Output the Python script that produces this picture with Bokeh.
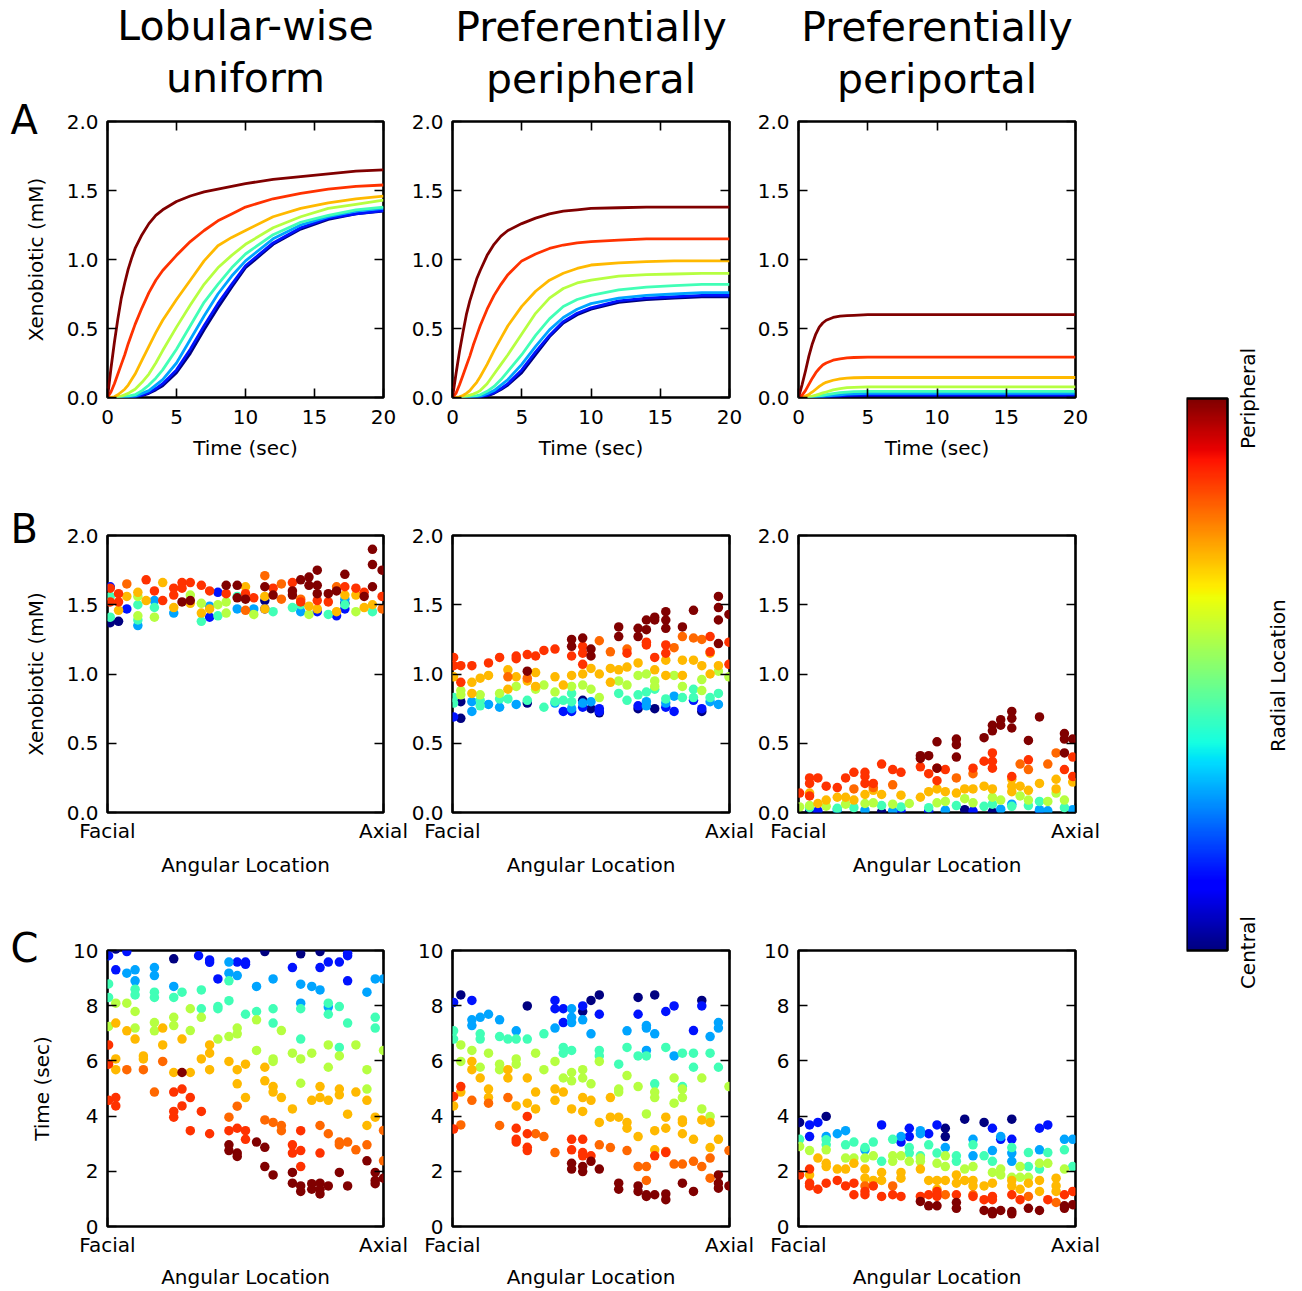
import math
import numpy as np
from bokeh.plotting import figure
from bokeh.layouts import row, column
from bokeh.models import (FixedTicker, LinearAxis, LinearColorMapper,
                          PrintfTickFormatter, Range1d, Title)
from bokeh.core.properties import value
from bokeh.embed import file_html
from bokeh.resources import INLINE

# ---------------------------------------------------------------- data
COL_TITLE_1 = ["Lobular-wise", "Preferentially", "Preferentially"]
COL_TITLE_2 = ["uniform", "peripheral", "periportal"]
ROW_LETTERS = ["A", "B", "C"]
CB_LABELS = ["Central", "Radial Location", "Peripheral"]

# Row A: time samples (sec) and curves, level 0 = central (navy) ... 7 = peripheral (dark red)
T = [0, 0.25, 0.5, 0.75, 1, 1.25, 1.5, 1.75, 2, 2.5, 3, 3.5, 4, 5, 6, 7, 8, 9, 10, 12, 14, 16, 18, 20]

A1 = [
    [0, 0, 0, 0, 0, 0, 0, .001, .003, .013, .03, .055, .085, .18, .32, .49, .65, .80, .94, 1.11, 1.22, 1.29, 1.33, 1.35],
    [0, 0, 0, 0, 0, 0, 0, .002, .005, .018, .035, .065, .10, .20, .35, .52, .68, .82, .955, 1.12, 1.23, 1.30, 1.33, 1.355],
    [0, 0, 0, 0, 0, .001, .003, .006, .01, .03, .05, .09, .13, .25, .42, .59, .75, .88, .99, 1.15, 1.25, 1.31, 1.35, 1.37],
    [0, 0, 0, .002, .005, .008, .01, .015, .02, .05, .09, .14, .20, .35, .52, .69, .82, .94, 1.04, 1.18, 1.27, 1.32, 1.36, 1.38],
    [0, 0, .002, .005, .01, .02, .03, .045, .06, .11, .17, .25, .34, .51, .67, .82, .94, 1.03, 1.11, 1.23, 1.31, 1.37, 1.40, 1.43],
    [0, .001, .005, .02, .04, .06, .09, .13, .17, .27, .37, .47, .56, .71, .85, .99, 1.10, 1.16, 1.21, 1.31, 1.37, 1.41, 1.44, 1.46],
    [0, .04, .10, .17, .24, .31, .39, .46, .53, .65, .76, .85, .92, 1.03, 1.13, 1.21, 1.28, 1.33, 1.38, 1.44, 1.48, 1.51, 1.53, 1.54],
    [0, .21, .40, .57, .72, .83, .93, 1.01, 1.08, 1.18, 1.26, 1.32, 1.36, 1.42, 1.46, 1.49, 1.51, 1.53, 1.55, 1.58, 1.60, 1.62, 1.64, 1.65],
]
A2 = [
    [0, 0, 0, 0, 0, 0, 0, .001, .003, .012, .03, .057, .09, .18, .31, .44, .54, .60, .64, .69, .71, .72, .73, .73],
    [0, 0, 0, 0, 0, 0, 0, .002, .005, .017, .035, .065, .10, .20, .33, .45, .55, .61, .65, .70, .72, .73, .74, .74],
    [0, 0, 0, 0, 0, .001, .003, .006, .01, .027, .05, .09, .13, .24, .37, .49, .58, .64, .68, .72, .74, .75, .76, .76],
    [0, 0, 0, .002, .005, .007, .01, .014, .02, .045, .08, .13, .19, .31, .45, .57, .66, .71, .74, .78, .80, .81, .82, .82],
    [0, 0, .002, .005, .01, .017, .025, .035, .05, .10, .17, .24, .31, .46, .61, .72, .79, .83, .85, .88, .89, .895, .90, .90],
    [0, .001, .005, .015, .03, .05, .08, .11, .15, .24, .34, .43, .52, .66, .77, .85, .90, .935, .96, .975, .985, .99, .99, .99],
    [0, .03, .09, .16, .23, .30, .38, .45, .52, .64, .74, .82, .89, .99, 1.04, 1.08, 1.105, 1.12, 1.13, 1.14, 1.15, 1.15, 1.15, 1.15],
    [0, .17, .33, .47, .60, .70, .78, .86, .92, 1.03, 1.11, 1.17, 1.21, 1.26, 1.30, 1.33, 1.35, 1.36, 1.37, 1.375, 1.38, 1.38, 1.38, 1.38],
]
A3 = [
    [0, 0, 0, 0, 0, 0, 0, .001, .002, .004, .006, .008, .010, .012, .012, .012, .012, .012, .012, .012, .012, .012, .012, .012],
    [0, 0, 0, 0, 0, .001, .002, .003, .005, .008, .012, .015, .017, .020, .020, .020, .020, .020, .020, .020, .020, .020, .020, .020],
    [0, 0, 0, .001, .002, .003, .005, .007, .010, .015, .020, .024, .027, .030, .030, .030, .030, .030, .030, .030, .030, .030, .030, .030],
    [0, 0, .001, .003, .005, .008, .012, .016, .020, .028, .035, .039, .042, .045, .045, .045, .045, .045, .045, .045, .045, .045, .045, .045],
    [0, 0, .002, .005, .010, .017, .025, .033, .040, .055, .065, .071, .074, .077, .077, .077, .077, .077, .077, .077, .077, .077, .077, .077],
    [0, .002, .010, .022, .040, .060, .080, .097, .110, .125, .135, .140, .143, .145, .145, .145, .145, .145, .145, .145, .145, .145, .145, .145],
    [0, .015, .050, .095, .140, .180, .210, .235, .250, .270, .280, .287, .290, .293, .293, .293, .293, .293, .293, .293, .293, .293, .293, .293],
    [0, .09, .19, .30, .39, .46, .51, .54, .56, .58, .59, .593, .595, .600, .600, .600, .600, .600, .600, .600, .600, .600, .600, .600],
]

# Rows B and C: (angular location 0=Facial .. 1=Axial, value) per radial level
# level index: 0 navy, 1 blue, 2 light blue, 3 cyan-green, 4 yellow-green, 5 orange, 6 red-orange, 7 red, 8 dark red
B1 = [
    [(.01,1.37),(.04,1.38),(.57,1.53),(.86,1.51)],
    [(.01,1.63),(.07,1.47),(.37,1.41),(.40,1.59),(.57,1.47),(.76,1.45),(.83,1.42),(.86,1.47)],
    [(.11,1.35),(.17,1.53),(.24,1.44),(.37,1.49),(.47,1.47),(.53,1.47),(.70,1.45),(.86,1.54)],
    [(.01,1.41),(.01,1.56),(.11,1.50),(.11,1.39),(.17,1.48),(.34,1.38),(.40,1.42),(.47,1.56),(.60,1.45),(.67,1.48),(.70,1.50),(.80,1.43),(.86,1.50),(.96,1.45)],
    [(.11,1.42),(.11,1.56),(.17,1.41),(.30,1.57),(.34,1.51),(.40,1.50),(.43,1.44),(.43,1.52),(.53,1.43),(.73,1.43),(.90,1.45)],
    [(.04,1.46),(.07,1.56),(.11,1.59),(.14,1.53),(.20,1.66),(.24,1.48),(.30,1.51),(.34,1.44),(.37,1.47),(.50,1.63),(.57,1.56),(.57,1.47),(.73,1.49),(.76,1.47),(.83,1.45),(.86,1.57),(.90,1.57),(.93,1.48),(.96,1.50)],
    [(.07,1.65),(.50,1.46),(.57,1.71),(.63,1.65),(.63,1.54),(.70,1.54),(.83,1.63),(.995,1.47)],
    [(.01,1.62),(.01,1.52),(.04,1.58),(.04,1.52),(.14,1.68),(.17,1.60),(.20,1.53),(.24,1.62),(.24,1.57),(.27,1.66),(.27,1.62),(.30,1.66),(.34,1.64),(.37,1.60),(.43,1.58),(.50,1.58),(.53,1.55),(.60,1.62),(.67,1.66),(.70,1.52),(.76,1.53),(.80,1.52),(.86,1.63),(.90,1.62),(.93,1.59),(.995,1.56)],
    [(.27,1.52),(.30,1.53),(.43,1.64),(.47,1.64),(.47,1.55),(.50,1.54),(.57,1.63),(.60,1.57),(.67,1.60),(.67,1.57),(.70,1.68),(.73,1.70),(.73,1.64),(.76,1.75),(.76,1.64),(.76,1.58),(.80,1.58),(.83,1.60),(.86,1.72),(.93,1.56),(.96,1.90),(.96,1.79),(.96,1.63),(.995,1.75)],
]
B2 = [
    [(.03,0.68),(.03,0.80),(.27,0.79),(.47,0.81),(.50,0.75),(.53,0.72),(.67,0.75),(.73,0.75),(.90,0.73)],
    [(.004,0.69),(.40,0.73),(.43,0.73),(.47,0.76),(.53,0.75),(.53,0.73),(.67,0.77),(.77,0.76),(.80,0.73),(.87,0.81),(.90,0.75)],
    [(.07,0.80),(.07,0.73),(.13,0.78),(.17,0.76),(.23,0.78),(.37,0.79),(.43,0.75),(.47,0.79),(.50,0.80),(.70,0.80),(.70,0.77),(.77,0.79),(.80,0.84),(.93,0.80),(.96,0.78)],
    [(.004,0.83),(.004,0.79),(.10,0.81),(.10,0.77),(.17,0.82),(.20,0.82),(.27,0.81),(.33,0.76),(.37,0.80),(.40,0.81),(.43,0.86),(.43,0.80),(.60,0.86),(.63,0.81),(.67,0.85),(.70,0.87),(.73,0.89),(.77,0.82),(.83,0.83),(.87,0.89),(.87,0.83),(.93,0.83),(.96,0.86)],
    [(.03,0.88),(.03,0.85),(.10,0.85),(.17,0.86),(.23,0.91),(.30,0.89),(.33,0.92),(.37,0.87),(.43,0.91),(.47,0.92),(.50,0.89),(.53,0.83),(.60,0.95),(.63,0.92),(.67,0.99),(.70,1.00),(.73,0.95),(.73,0.91),(.80,0.99),(.83,0.91),(.90,0.96),(.90,0.88),(.96,1.02),(.998,0.98)],
    [(.004,0.98),(.07,0.94),(.07,0.86),(.10,0.97),(.13,0.99),(.20,1.03),(.20,0.89),(.23,0.98),(.27,0.95),(.30,1.01),(.30,0.91),(.37,0.98),(.40,0.92),(.43,0.99),(.47,1.00),(.50,1.04),(.53,1.00),(.57,1.04),(.57,0.94),(.60,1.03),(.63,1.05),(.67,1.08),(.73,1.03),(.77,1.10),(.77,0.99),(.83,1.10),(.83,0.99),(.87,1.10),(.90,1.06),(.93,1.15),(.93,1.00),(.96,1.06)],
    [(.20,0.98),(.27,0.97),(.53,1.24),(.57,1.16),(.63,1.18),(.80,1.19),(.83,1.27),(.87,1.26),(.90,1.25)],
    [(.004,1.12),(.004,1.06),(.03,1.06),(.07,1.06),(.13,1.08),(.17,1.12),(.23,1.13),(.23,1.11),(.27,1.14),(.30,1.13),(.33,1.17),(.37,1.18),(.43,1.13),(.47,1.20),(.47,1.15),(.47,1.07),(.63,1.15),(.70,1.23),(.70,1.21),(.73,1.12),(.77,1.21),(.77,1.15),(.93,1.27),(.93,1.16),(.998,1.23),(.998,1.07),(.03,0.94)],
    [(.27,1.02),(.43,1.25),(.43,1.20),(.47,1.26),(.50,1.18),(.50,1.13),(.60,1.34),(.60,1.27),(.67,1.33),(.67,1.27),(.70,1.39),(.70,1.32),(.73,1.41),(.73,1.39),(.77,1.45),(.77,1.39),(.77,1.33),(.83,1.34),(.87,1.46),(.96,1.56),(.96,1.48),(.96,1.39),(.96,1.22),(.998,1.43)],
]
B3 = [
    [(.04,0.007),(.30,0.005),(.60,0.02),(.70,0.005)],
    [(.07,0.012),(.37,0.01),(.47,0.01),(.63,0.01),(.87,0.01)],
    [(.14,0.02),(.24,0.017),(.34,0.012),(.53,0.017),(.73,0.024),(.77,0.06),(.87,0.02),(.90,0.012),(.99,0.02)],
    [(.04,0.035),(.14,0.03),(.20,0.035),(.30,0.05),(.37,0.04),(.47,0.035),(.57,0.05),(.67,0.045),(.70,0.06),(.77,0.045),(.83,0.05),(.87,0.08),(.96,0.035)],
    [(.004,0.04),(.04,0.05),(.10,0.045),(.17,0.06),(.24,0.065),(.27,0.07),(.34,0.06),(.40,0.065),(.50,0.07),(.53,0.08),(.60,0.10),(.63,0.07),(.70,0.11),(.73,0.09),(.80,0.12),(.83,0.09),(.90,0.08),(.93,0.14),(.96,0.09)],
    [(.04,0.14),(.07,0.065),(.10,0.09),(.14,0.11),(.17,0.11),(.20,0.09),(.24,0.13),(.27,0.16),(.30,0.13),(.37,0.125),(.44,0.11),(.47,0.15),(.50,0.17),(.53,0.15),(.57,0.14),(.60,0.17),(.63,0.17),(.67,0.19),(.70,0.17),(.77,0.24),(.77,0.19),(.77,0.15),(.80,0.19),(.83,0.16),(.87,0.21),(.93,0.24),(.93,0.17),(.99,0.22)],
    [(.20,0.17),(.27,0.18),(.34,0.20),(.57,0.25),(.63,0.28),(.80,0.35),(.83,0.31),(.90,0.35),(.93,0.43)],
    [(.004,0.14),(.04,0.25),(.04,0.21),(.04,0.12),(.07,0.25),(.10,0.19),(.14,0.18),(.17,0.25),(.20,0.29),(.24,0.29),(.24,0.26),(.24,0.21),(.27,0.21),(.30,0.35),(.34,0.31),(.37,0.29),(.44,0.33),(.47,0.28),(.50,0.32),(.50,0.23),(.53,0.31),(.63,0.32),(.67,0.37),(.70,0.43),(.70,0.37),(.70,0.32),(.77,0.26),(.83,0.38),(.96,0.31),(.99,0.40),(.99,0.26)],
    [(.44,0.41),(.44,0.39),(.47,0.41),(.50,0.51),(.50,0.32),(.57,0.53),(.57,0.49),(.57,0.40),(.67,0.54),(.70,0.63),(.70,0.59),(.73,0.67),(.73,0.63),(.77,0.73),(.77,0.68),(.77,0.61),(.83,0.52),(.87,0.69),(.96,0.57),(.96,0.53),(.96,0.43),(.99,0.53)],
]
C1 = [
    [(.24,9.70),(.57,9.96),(.70,9.88),(.77,9.96),(.03,10.05)],
    [(.004,9.81),(.03,9.30),(.07,9.96),(.33,9.81),(.37,9.66),(.37,9.57),(.40,8.97),(.47,9.58),(.50,9.58),(.50,9.50),(.67,9.38),(.77,9.38),(.80,9.58),(.84,9.58),(.87,9.81),(.87,9.90),(.87,8.90)],
    [(.07,9.18),(.10,9.30),(.10,8.90),(.17,9.38),(.17,9.09),(.24,8.70),(.44,9.58),(.44,9.18),(.47,9.09),(.54,8.70),(.60,8.97),(.70,8.78),(.74,8.70),(.77,8.57),(.70,8.09),(.80,7.95),(.94,8.49),(.97,8.97),(1.0,8.97)],
    [(.004,8.79),(.004,8.30),(.10,8.60),(.10,8.39),(.17,8.49),(.17,8.30),(.24,8.30),(.27,8.49),(.34,8.57),(.34,7.89),(.40,7.97),(.40,7.89),(.44,8.90),(.44,8.18),(.50,7.69),(.54,7.79),(.60,7.89),(.60,7.37),(.70,7.89),(.70,6.79),(.80,8.09),(.80,7.69),(.84,7.97),(.84,6.49),(.87,7.37),(.97,7.58),(.97,7.19)],
    [(.004,7.25),(.03,8.09),(.07,8.09),(.10,7.79),(.10,7.19),(.17,7.39),(.17,7.09),(.24,7.58),(.24,7.28),(.30,7.89),(.30,7.10),(.34,7.58),(.40,6.79),(.44,6.88),(.47,7.19),(.47,6.98),(.54,7.49),(.54,6.38),(.60,6.07),(.60,5.98),(.63,7.10),(.67,6.28),(.70,6.07),(.70,5.19),(.74,6.28),(.80,6.58),(.80,5.77),(.84,6.18),(.90,6.58),(.94,5.68),(.94,4.98),(1.0,6.38)],
    [(.03,7.37),(.03,6.07),(.03,5.68),(.07,7.09),(.10,6.79),(.13,6.18),(.13,6.07),(.20,7.19),(.20,6.58),(.24,5.58),(.27,6.79),(.30,5.58),(.34,6.07),(.37,6.58),(.37,6.28),(.37,5.68),(.44,5.98),(.47,5.68),(.47,5.17),(.50,5.88),(.50,4.67),(.57,5.77),(.57,5.28),(.60,5.07),(.60,4.87),(.63,4.67),(.67,4.26),(.74,4.57),(.77,5.07),(.77,4.67),(.80,4.57),(.84,4.98),(.84,4.77),(.87,4.07),(.90,4.87),(.94,4.57),(.94,3.66),(.97,3.96)],
    [(.07,5.68),(.13,5.68),(.17,4.87),(.20,5.98),(.44,3.96),(.47,4.36),(.57,3.86),(.60,3.77),(.63,3.66),(.63,3.47),(.77,3.66),(.80,3.36),(.84,3.06),(.84,2.96),(.87,3.06),(.90,2.78),(.94,2.96),(1.0,3.48),(1.0,2.38)],
    [(.004,6.58),(.004,5.88),(.004,4.57),(.03,4.67),(.03,4.37),(.24,4.87),(.24,4.17),(.24,3.96),(.27,4.98),(.27,4.37),(.30,4.67),(.34,4.17),(.30,3.47),(.37,3.36),(.44,3.47),(.47,3.56),(.50,3.47),(.50,3.16),(.67,2.96),(.67,2.66),(.70,3.47),(.70,2.75),(.70,2.17),(.77,2.66)],
    [(.27,5.58),(.44,2.96),(.44,2.75),(.47,2.66),(.47,2.54),(.54,3.06),(.57,2.87),(.57,2.17),(.60,1.87),(.67,1.96),(.67,1.57),(.70,1.47),(.70,1.27),(.74,1.55),(.74,1.35),(.77,1.57),(.77,1.18),(.77,1.35),(.80,1.47),(.84,1.96),(.87,1.47),(.94,2.38),(.97,1.96),(.97,1.67),(.97,1.55),(1.0,1.75)],
]
C2 = [
    [(.03,8.39),(.27,7.99),(.50,8.19),(.53,8.39),(.67,8.30),(.73,8.39),(.90,8.19),(.47,7.79)],
    [(.004,8.12),(.07,8.19),(.37,8.19),(.37,7.89),(.40,7.89),(.40,7.39),(.47,7.99),(.53,7.69),(.67,7.69),(.77,7.79),(.80,7.99),(.87,7.10),(.90,7.99)],
    [(.07,7.49),(.07,7.28),(.10,7.58),(.13,7.69),(.17,7.49),(.23,7.09),(.37,7.19),(.43,7.89),(.43,7.58),(.43,7.39),(.47,7.49),(.50,6.98),(.63,7.09),(.70,7.28),(.70,7.19),(.73,6.98),(.70,6.38),(.80,6.18),(.93,6.88),(.96,7.39),(.96,7.19)],
    [(.004,7.09),(.004,6.79),(.10,6.98),(.10,6.79),(.17,6.88),(.20,6.79),(.23,6.79),(.27,6.79),(.33,6.98),(.40,6.49),(.40,6.28),(.43,6.38),(.53,6.38),(.53,6.18),(.60,5.88),(.63,6.49),(.67,6.18),(.70,6.18),(.73,5.17),(.77,6.49),(.83,6.28),(.83,5.07),(.87,6.28),(.87,5.77),(.93,6.28),(.96,5.77)],
    [(.03,6.58),(.03,5.98),(.07,6.38),(.10,5.77),(.13,6.28),(.17,5.88),(.17,5.68),(.23,6.07),(.23,5.88),(.30,6.28),(.33,5.68),(.37,5.98),(.40,5.38),(.43,5.58),(.43,5.28),(.47,5.68),(.47,5.38),(.50,5.17),(.53,5.98),(.60,4.98),(.60,4.87),(.63,5.47),(.67,5.07),(.70,4.08),(.73,4.87),(.73,4.67),(.80,5.38),(.80,4.47),(.83,4.98),(.83,4.67),(.90,5.38),(.90,4.26),(.93,3.99),(.998,5.07)],
    [(.004,4.37),(.03,4.87),(.07,5.98),(.07,5.68),(.10,5.38),(.13,4.98),(.13,4.67),(.20,5.68),(.20,5.38),(.23,4.37),(.27,5.38),(.27,4.47),(.30,4.87),(.30,4.26),(.37,4.98),(.37,4.57),(.40,4.87),(.43,4.26),(.47,4.67),(.47,4.17),(.50,4.57),(.53,3.77),(.57,4.67),(.57,3.96),(.60,3.96),(.63,3.77),(.63,3.56),(.67,3.26),(.73,3.47),(.73,2.78),(.77,3.96),(.77,3.56),(.83,3.86),(.83,3.77),(.83,3.36),(.87,3.16),(.90,3.86),(.93,3.77),(.93,2.86),(.96,3.16)],
    [(.07,4.57),(.13,4.47),(.20,4.67),(.17,3.66),(.03,3.68),(.30,3.36),(.33,3.26),(.37,2.68),(.53,2.96),(.57,2.86),(.63,2.75),(.67,2.17),(.70,2.17),(.77,2.72),(.80,2.26),(.83,2.26),(.87,2.36),(.90,2.17),(.93,2.48),(.93,1.75),(.998,2.75),(.70,1.67)],
    [(.004,4.71),(.004,3.53),(.03,5.07),(.23,3.56),(.23,3.16),(.23,3.06),(.27,3.99),(.27,3.36),(.27,2.87),(.27,2.75),(.43,3.16),(.43,2.78),(.47,3.16),(.47,2.68),(.47,2.56),(.50,2.56),(.73,2.56),(.77,2.68)],
    [(.43,2.29),(.43,2.08),(.47,2.17),(.47,1.99),(.50,2.36),(.53,2.08),(.60,1.57),(.60,1.35),(.67,1.47),(.67,1.27),(.70,1.15),(.70,1.09),(.73,1.15),(.77,1.18),(.77,0.97),(.83,1.57),(.87,1.27),(.96,1.87),(.96,1.57),(.96,1.39),(.998,1.47)],
]
C3 = [
    [(.004,3.77),(.10,3.99),(.53,3.56),(.53,3.26),(.60,3.89),(.67,3.77),(.77,3.89)],
    [(.04,3.68),(.04,3.26),(.07,3.77),(.30,3.68),(.37,3.06),(.40,3.56),(.40,3.26),(.47,3.36),(.50,3.68),(.70,3.56),(.73,3.16),(.77,3.16),(.87,3.56),(.90,3.68)],
    [(.10,3.26),(.14,3.36),(.17,3.47),(.24,2.78),(.37,3.26),(.44,3.47),(.44,3.36),(.53,2.86),(.63,3.16),(.63,2.56),(.70,2.75),(.73,3.26),(.77,2.66),(.77,2.36),(.87,2.78),(.96,3.16),(.99,3.16)],
    [(.004,3.16),(.10,3.14),(.10,2.96),(.17,2.96),(.20,3.06),(.24,2.86),(.27,3.06),(.30,2.36),(.34,3.16),(.40,2.86),(.40,2.66),(.44,2.56),(.47,2.96),(.50,2.66),(.57,2.56),(.57,2.36),(.63,2.96),(.67,2.56),(.70,2.36),(.77,2.86),(.83,2.68),(.83,2.17),(.87,2.08),(.90,2.68),(.96,2.78),(.99,2.17)],
    [(.004,2.90),(.04,2.75),(.10,2.78),(.17,2.48),(.20,2.48),(.24,2.48),(.27,2.56),(.34,2.56),(.34,2.36),(.37,2.56),(.40,2.36),(.44,2.48),(.44,2.36),(.50,2.29),(.53,2.56),(.53,2.17),(.60,2.08),(.63,2.17),(.70,1.96),(.73,2.08),(.73,1.87),(.77,1.78),(.80,2.17),(.80,1.78),(.83,1.78),(.87,2.29),(.90,2.29),(.96,2.08)],
    [(.04,1.87),(.07,2.48),(.10,2.29),(.10,2.17),(.14,2.08),(.17,2.08),(.20,2.29),(.24,2.08),(.24,1.75),(.27,1.67),(.30,1.96),(.30,1.67),(.37,1.96),(.37,1.75),(.44,2.08),(.47,1.67),(.50,1.67),(.50,1.35),(.53,1.67),(.57,1.87),(.57,1.57),(.60,1.67),(.63,1.67),(.63,1.47),(.67,1.47),(.70,1.57),(.77,1.67),(.77,1.47),(.80,1.35),(.83,1.57),(.87,1.67),(.87,1.27),(.93,1.75),(.93,1.47),(.93,1.27)],
    [(.24,1.47),(.34,1.47),(.53,1.15),(.63,1.15),(.83,1.09),(.93,0.87)],
    [(.004,1.87),(.04,2.08),(.04,1.57),(.04,1.47),(.07,1.35),(.10,1.57),(.14,1.67),(.17,1.47),(.20,1.57),(.20,1.15),(.24,1.27),(.24,1.15),(.27,1.47),(.30,1.09),(.34,1.15),(.37,1.09),(.44,1.09),(.47,1.15),(.50,1.27),(.50,1.09),(.57,1.15),(.63,1.09),(.67,0.97),(.70,1.09),(.70,0.97),(.77,1.15),(.80,0.97),(.90,0.97),(.96,1.15),(.99,1.27)],
    [(.44,0.91),(.47,0.75),(.50,0.75),(.57,0.87),(.57,0.66),(.67,0.58),(.70,0.54),(.70,0.46),(.73,0.58),(.77,0.54),(.77,0.46),(.83,0.66),(.87,0.58),(.96,0.75),(.96,0.66),(.99,0.79)],
]

LINE_LEVELS = [k / 7 for k in range(8)]
SCATTER_LEVELS = [0.0, 1 / 7, 2 / 7, 3 / 7, 4 / 7, 5 / 7, 0.80, 6 / 7, 1.0]

# ---------------------------------------------------------------- style helpers
FONT = "DejaVu Sans"


def jet_hex(v):
    r = np.interp(v, [0, 0.35, 0.66, 0.89, 1], [0, 0, 1, 1, 0.5])
    g = np.interp(v, [0, 0.125, 0.375, 0.64, 0.91, 1], [0, 0, 1, 1, 0, 0])
    b = np.interp(v, [0, 0.11, 0.34, 0.65, 1], [0.5, 1, 1, 0, 0])
    return "#%02x%02x%02x" % (int(round(r * 255)), int(round(g * 255)), int(round(b * 255)))


JET256 = [jet_hex(i / 255) for i in range(256)]

COL_W = [408, 346, 351]
COL_L = [107, 44, 44]
COL_R = [25, 25, 30]
ROW_H = [470, 415, 406]
ROW_T = [121, 65, 65]
ROW_B = [73, 73, 64]
ROW_TICK_STANDOFF = [12, 6, 6]
ROW_XLABEL_STANDOFF = [9, 7, 5]

# title standoffs (px) used to place the two heading lines and the row letters
LETTER_STANDOFF = [-42, -32, -40]
LINE2_STANDOFF = [28, 38, 38]
LINE1_STANDOFF = [-24, -34, -34]
LETTER_OFFSET = -97


def style_axis(ax, ticks, fmt=None, overrides=None, hidden=False):
    ax.ticker = FixedTicker(ticks=ticks)
    ax.minor_tick_line_color = None
    ax.major_tick_in = 9
    ax.major_tick_out = 0
    ax.major_tick_line_width = 1.6
    ax.major_tick_line_color = "black"
    ax.axis_line_color = None
    if fmt is not None:
        ax.formatter = fmt
    if overrides is not None:
        ax.major_label_overrides = overrides
    if hidden:
        ax.major_label_text_font_size = "1px"
        ax.major_label_text_color = None
        ax.major_label_text_alpha = 0
        ax.major_label_standoff = 0
    else:
        ax.major_label_text_font_size = "20px"
        ax.major_label_text_font = FONT
        ax.major_label_text_color = "black"
        ax.axis_label_text_font = FONT
        ax.axis_label_text_font_size = "20px"
        ax.axis_label_text_font_style = "normal"
        ax.axis_label_text_color = "black"


def make_panel(r, c, xr, yr, xticks, yticks, yfmt, xover, xlabel, ylabel):
    p = figure(width=COL_W[c], height=ROW_H[r], x_range=Range1d(*xr), y_range=Range1d(*yr),
               output_backend="svg", toolbar_location=None, title=None,
               min_border_left=COL_L[c], min_border_right=COL_R[c],
               min_border_top=ROW_T[r], min_border_bottom=ROW_B[r])
    p.xgrid.visible = False
    p.ygrid.visible = False
    p.outline_line_color = "black"
    p.outline_line_width = 2.6
    p.outline_line_alpha = 1.0
    p.background_fill_color = "white"
    p.border_fill_color = "white"

    xa = p.xaxis[0]
    style_axis(xa, xticks, overrides=xover)
    xa.major_label_standoff = ROW_TICK_STANDOFF[r]
    xa.axis_label = xlabel
    xa.axis_label_standoff = ROW_XLABEL_STANDOFF[r]

    ya = p.yaxis[0]
    style_axis(ya, yticks, fmt=yfmt)
    ya.major_label_standoff = 9
    if ylabel:
        ya.axis_label = ylabel
        ya.axis_label_standoff = 16

    top = LinearAxis()
    style_axis(top, xticks, hidden=True)
    p.add_layout(top, "above")
    right = LinearAxis()
    style_axis(right, yticks, hidden=True)
    p.add_layout(right, "right")

    if c == 0:
        p.add_layout(Title(text=ROW_LETTERS[r], align="left", offset=LETTER_OFFSET,
                           vertical_align="bottom", standoff=LETTER_STANDOFF[r],
                           text_font=FONT, text_font_size="40px", text_font_style="normal",
                           text_color="black"), "above")
    if r == 0:
        for txt, so in [(COL_TITLE_2[c], LINE2_STANDOFF[c]), (COL_TITLE_1[c], LINE1_STANDOFF[c])]:
            p.add_layout(Title(text=txt, align="center", vertical_align="bottom", standoff=so,
                               text_font=FONT, text_font_size="41px", text_font_style="normal",
                               text_color="black"), "above")
    return p


# ---------------- row A
rowA = []
for c, curves in enumerate([A1, A2, A3]):
    p = make_panel(0, c, (0, 20), (0, 2), [0, 5, 10, 15, 20], [0, 0.5, 1.0, 1.5, 2.0],
                   PrintfTickFormatter(format="%.1f"), None, "Time (sec)",
                   "Xenobiotic (mM)" if c == 0 else None)
    for lvl, vals in enumerate(curves):
        p.line(T, vals, line_width=2.8, line_color=jet_hex(LINE_LEVELS[lvl]), line_join="round")
    rowA.append(p)

# ---------------- rows B and C
other_rows = []
for r, panels, yr, yticks, yfmt, ylabel in [
    (1, [B1, B2, B3], (0, 2), [0, 0.5, 1.0, 1.5, 2.0], PrintfTickFormatter(format="%.1f"), "Xenobiotic (mM)"),
    (2, [C1, C2, C3], (0, 10), [0, 2, 4, 6, 8, 10], PrintfTickFormatter(format="%d"), "Time (sec)"),
]:
    figs = []
    for c, groups in enumerate(panels):
        p = make_panel(r, c, (0, 1), yr, [0, 1], yticks, yfmt, {0: "Facial", 1: "Axial"},
                       "Angular Location", ylabel if c == 0 else None)
        for lvl, pts in enumerate(groups):
            xs = [pt[0] for pt in pts]
            ys = [pt[1] for pt in pts]
            p.scatter(xs, ys, size=9.5, fill_color=jet_hex(SCATTER_LEVELS[lvl]), line_color=None)
        figs.append(p)
    other_rows.append(figs)

# ---------------- colour bar (frame widened so that its texts sit inside it)
CB_X = (0, 116 / 41)
CB_Y = (-50 / 552, 1 + 58 / 552)
cb = figure(width=197, height=1291, x_range=Range1d(*CB_X), y_range=Range1d(*CB_Y),
            output_backend="svg", toolbar_location=None,
            min_border_left=81, min_border_right=0, min_border_top=340, min_border_bottom=291,
            x_axis_location=None, y_axis_location=None)
cb.xgrid.visible = False
cb.ygrid.visible = False
cb.outline_line_color = None
cb.background_fill_color = "white"
cb.border_fill_color = "white"
mapper = LinearColorMapper(palette=JET256, low=0, high=1)
grad = np.linspace(0, 1, 256).reshape(256, 1)
cb.image(image=[grad], x=0, y=0, dw=1, dh=1, color_mapper=mapper)
cb.quad(left=[0], right=[1], bottom=[0], top=[1], fill_color=None, line_color="black", line_width=2.6)
cb.text(x=[1.49, 2.24, 1.49], y=[-0.004, 0.498, 1.0], text=CB_LABELS, angle=math.pi / 2,
        text_font=value(FONT), text_font_size="20px", text_align="center",
        text_baseline="middle", text_color="black")

left = column(row(*rowA), row(*other_rows[0]), row(*other_rows[1]))
layout = row(left, cb)

open("out.html", "w").write(file_html(layout, INLINE))
